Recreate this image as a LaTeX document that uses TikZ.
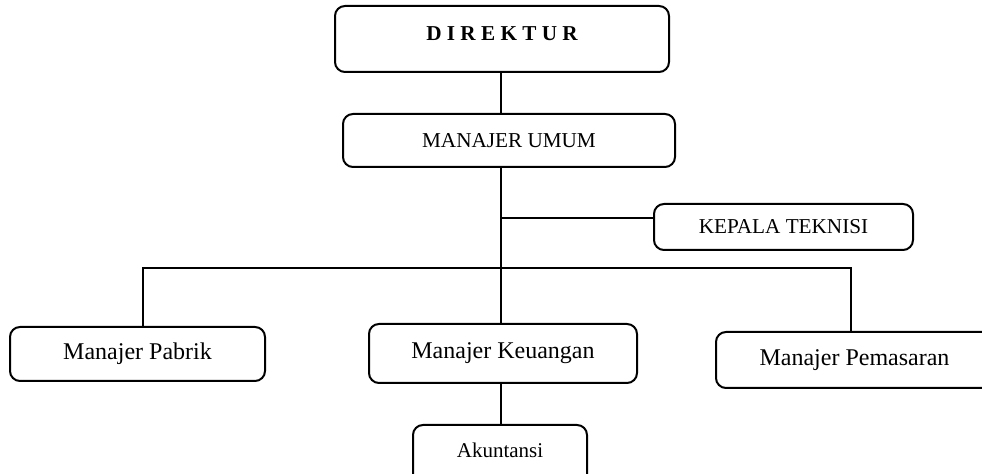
\documentclass[tikz,border=0pt]{standalone}
\usepackage{fontspec}
\setmainfont{Liberation Serif}
\begin{document}
\begin{tikzpicture}[x=0.5pt,y=-0.5pt,
  box/.style={draw,line width=1pt,rounded corners=5pt,inner sep=0pt,align=center},
  conn/.style={line width=1pt}]
\useasboundingbox (0,0) rectangle (982,474);
\clip (0,0) rectangle (982,474);
\node[box,minimum width=167pt,minimum height=33pt] (dir) at (502,39)
  {\raisebox{5pt}{\fontsize{10.6}{12}\selectfont\bfseries D I R E K T U R}};
\node[box,minimum width=166pt,minimum height=26.5pt] (umum) at (509,140.5)
  {\fontsize{10.6}{12}\selectfont MANAJER UMUM};
\node[box,minimum width=129.5pt,minimum height=23pt] (kep) at (783.5,227)
  {\fontsize{10.6}{12}\selectfont KEPALA TEKNISI};
\node[box,minimum width=127.5pt,minimum height=27pt] (pab) at (137.5,354)
  {\fontsize{12}{14}\selectfont Manajer Pabrik};
\node[box,minimum width=134pt,minimum height=29.5pt] (keu) at (503,353.5)
  {\fontsize{12}{14}\selectfont Manajer Keuangan};
\node[box,minimum width=138.5pt,minimum height=28pt] (pem) at (854.5,360)
  {\fontsize{12}{14}\selectfont Manajer Pemasaran};
\node[box,minimum width=87pt,minimum height=34pt] (ak) at (500,459)
  {\raisebox{8.5pt}{\fontsize{10.5}{12}\selectfont Akuntansi}};
\coordinate (j1) at (501,218);
\coordinate (bl) at (143,268);
\coordinate (br) at (851,268);
\draw[conn] (dir.south -| j1) -- (umum.north -| j1);
\draw[conn] (umum.south -| j1) -- (keu.north -| j1);
\draw[conn] (j1) -- (j1 -| kep.west);
\draw[conn] (bl |- pab.north) -- (bl) -- (br) -- (br |- pem.north);
\draw[conn] (keu.south -| j1) -- (ak.north -| j1);
\end{tikzpicture}
\end{document}
